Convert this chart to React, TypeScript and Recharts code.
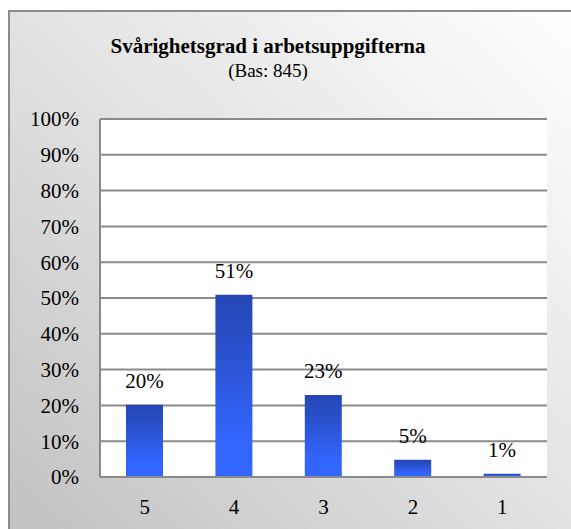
import React from 'react';
import { BarChart, Bar, XAxis, YAxis, CartesianGrid, LabelList } from 'recharts';

const categories = ['5', '4', '3', '2', '1'];
const shares = [20.2, 50.9, 22.9, 4.8, 0.9];
const yTicks = [0, 10, 20, 30, 40, 50, 60, 70, 80, 90, 100];
const boundaryTicks = [1, 2, 3, 4];
const title = 'Svårighetsgrad i arbetsuppgifterna';
const subtitle = '(Bas: 845)';

const data = categories.map((c, i) => ({ category: c, share: shares[i] }));

const FONT = 'Liberation Serif';
const GRID = '#8a8a8a';

export default function App() {
  return (
    <div style={{ position: 'fixed', left: 0, top: 0, width: 571, height: 529, overflow: 'hidden', background: '#fff', fontFamily: FONT }}>
      <div
        style={{
          position: 'absolute',
          left: 8,
          top: 10,
          width: 563,
          height: 519,
          boxSizing: 'border-box',
          borderLeft: '2px solid #8c8c8c',
          borderTop: '2px solid #8c8c8c',
          background: 'linear-gradient(to top right, #c2c2c2 0%, #e2e2e2 50%, #ffffff 100%)',
        }}
      />
      <svg width={571} height={529} style={{ position: 'absolute', left: 0, top: 0 }}>
        <text x={268} y={53} textAnchor="middle" style={{ fontFamily: FONT, fontWeight: 'bold', fontSize: 21 }} fill="#000">
          {title}
        </text>
        <text x={268} y={77} textAnchor="middle" style={{ fontFamily: FONT, fontSize: 19 }} fill="#000">
          {subtitle}
        </text>
      </svg>
      <div style={{ position: 'absolute', left: 0, top: 0 }}>
        <BarChart
          width={571}
          height={529}
          data={data}
          margin={{ top: 119, right: 24, bottom: 0, left: 0 }}
          style={{ fontFamily: FONT }}
        >
          <defs>
            <linearGradient id="barGrad" x1="0" y1="0" x2="0" y2="1">
              <stop offset="0%" stopColor="#2446b6" />
              <stop offset="30%" stopColor="#2a51cc" />
              <stop offset="80%" stopColor="#3366ff" />
              <stop offset="100%" stopColor="#3366ff" />
            </linearGradient>
          </defs>
          <CartesianGrid
            xAxisId="cat"
            yAxisId="left"
            vertical={false}
            stroke={GRID}
            strokeWidth={2}
            fill="#ffffff"
            fillOpacity={1}
          />
          <XAxis
            xAxisId="cat"
            dataKey="category"
            height={52}
            tickSize={0}
            tickMargin={22}
            tickLine={false}
            axisLine={{ stroke: GRID, strokeWidth: 2 }}
            tick={{ fill: '#000', fontSize: 21, style: { fontFamily: FONT } }}
          />
          <XAxis
            xAxisId="bounds"
            type="number"
            domain={[0, 5]}
            ticks={boundaryTicks}
            allowDataOverflow
            orientation="bottom"
            mirror
            tick={false}
            axisLine={false}
            tickLine={{ stroke: GRID, strokeWidth: 1.5 }}
            tickSize={6}
          />
          <YAxis
            yAxisId="left"
            width={100}
            domain={[0, 100]}
            ticks={yTicks}
            allowDataOverflow
            interval={0}
            tickFormatter={(v: number) => `${v}%`}
            tickSize={0}
            tickMargin={21}
            tickLine={false}
            axisLine={{ stroke: GRID, strokeWidth: 2 }}
            tick={{ fill: '#000', fontSize: 21, style: { fontFamily: FONT } }}
          />
          <YAxis
            yAxisId="right"
            orientation="right"
            width={0}
            domain={[0, 100]}
            tick={false}
            tickLine={false}
            axisLine={{ stroke: '#9a9a9a', strokeWidth: 2.5 }}
          />
          <Bar
            xAxisId="cat"
            yAxisId="left"
            dataKey="share"
            barSize={37}
            fill="url(#barGrad)"
            isAnimationActive={false}
          >
            <LabelList
              dataKey="share"
              position="top"
              offset={17}
              formatter={(v: any) => `${Math.round(Number(v))}%`}
              style={{ fill: '#000', fontSize: 21, fontFamily: FONT }}
            />
          </Bar>
        </BarChart>
      </div>
    </div>
  );
}
